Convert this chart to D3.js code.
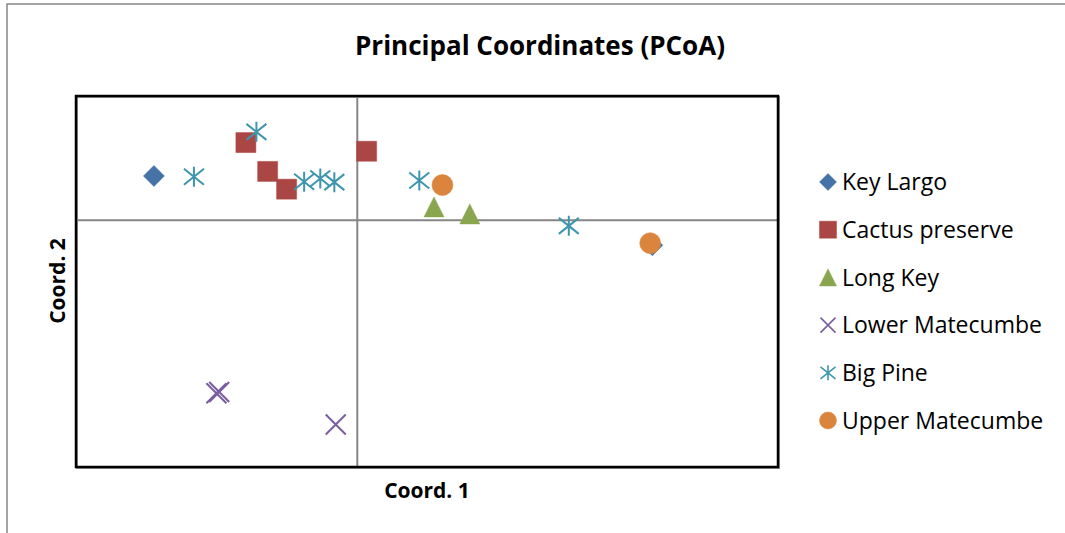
<!DOCTYPE html>
<html>
<head>
<meta charset="utf-8">
<style>
  body { margin: 0; background: #fff; font-family: "Open Sans", sans-serif; }
  svg text { fill: #000; }
</style>
</head>
<body>
<script src="https://cdn.jsdelivr.net/npm/d3@7"></script>
<script>
// site names in legend / drawing order
var sites = ["Key Largo", "Cactus preserve", "Long Key", "Lower Matecumbe", "Big Pine", "Upper Matecumbe"];
var colors = ["#4572A7", "#AA4643", "#89A54E", "#7B5E9E", "#3D96AE", "#DB843D"];
var shapes = ["diamond", "square", "triangle", "x", "star", "circle"];

// PCoA scores: [coord1, coord2]
var keyLargo = [[-0.289, 0.106], [0.421, -0.062]];
var cactusPreserve = [[-0.158, 0.187], [-0.127, 0.117], [-0.100, 0.074], [0.014, 0.166]];
var longKey = [[0.110, 0.031], [0.161, 0.014]];
var lowerMatecumbe = [[-0.200, -0.421], [-0.196, -0.418], [-0.030, -0.497]];
var bigPine = [[-0.143, 0.213], [-0.232, 0.104], [-0.075, 0.092], [-0.052, 0.100],
               [-0.032, 0.091], [0.089, 0.095], [0.302, -0.015]];
var upperMatecumbe = [[0.122, 0.084], [0.418, -0.057]];
var seriesData = [keyLargo, cactusPreserve, longKey, lowerMatecumbe, bigPine, upperMatecumbe];

var W = 1065, H = 533;
var plot = {left: 76, top: 96, right: 778, bottom: 467};

var svg = d3.select("body").append("svg")
    .attr("width", W).attr("height", H);

// chart area frame
svg.append("rect")
    .attr("x", 7).attr("y", 4)
    .attr("width", W + 20).attr("height", H + 20)
    .attr("fill", "#fff").attr("stroke", "#878787").attr("stroke-width", 1.5);

var x = d3.scaleLinear().domain([-0.4, 0.6]).range([plot.left, plot.right]);
var y = d3.scaleLinear().domain([-0.6, 0.3]).range([plot.bottom, plot.top]);

// axes through the origin (no ticks, no labels)
svg.append("g")
    .attr("transform", "translate(0," + y(0) + ")")
    .call(d3.axisBottom(x).tickValues([]).tickSizeOuter(0))
    .call(function(g) { g.select(".domain").attr("stroke", "#868686").attr("stroke-width", 2); });
svg.append("g")
    .attr("transform", "translate(" + x(0) + ",0)")
    .call(d3.axisLeft(y).tickValues([]).tickSizeOuter(0))
    .call(function(g) { g.select(".domain").attr("stroke", "#868686").attr("stroke-width", 2); });

// plot area border
svg.append("rect")
    .attr("x", plot.left + 1).attr("y", plot.top + 1)
    .attr("width", plot.right - plot.left).attr("height", plot.bottom - plot.top)
    .attr("fill", "none").attr("stroke", "#9a9a9a").attr("stroke-width", 2);
svg.append("rect")
    .attr("x", plot.left).attr("y", plot.top)
    .attr("width", plot.right - plot.left).attr("height", plot.bottom - plot.top)
    .attr("fill", "none").attr("stroke", "#000").attr("stroke-width", 2.5);

// marker path centred on its bounding box, s = box size
function markerPath(shape, s) {
  var h = s / 2;
  if (shape == "diamond") return "M0," + (-h) + "L" + h + ",0L0," + h + "L" + (-h) + ",0Z";
  if (shape == "square") return "M" + (-h) + "," + (-h) + "h" + s + "v" + s + "h" + (-s) + "Z";
  if (shape == "triangle") return "M0," + (-h) + "L" + h + "," + h + "L" + (-h) + "," + h + "Z";
  if (shape == "circle") return d3.arc()({innerRadius: 0, outerRadius: h, startAngle: 0, endAngle: 2 * Math.PI});
  if (shape == "x") return "M" + (-h) + "," + (-h) + "L" + h + "," + h + "M" + (-h) + "," + h + "L" + h + "," + (-h);
  // star: vertical line plus an x
  var d = h;
  return "M0," + (-h) + "V" + h + "M" + (-d) + "," + (-d * 0.8) + "L" + d + "," + (d * 0.8) +
         "M" + (-d) + "," + (d * 0.8) + "L" + d + "," + (-d * 0.8);
}

function styleMarker(sel, i, lineW) {
  var open = shapes[i] == "x" || shapes[i] == "star";
  sel.attr("fill", open ? "none" : colors[i])
     .attr("stroke", colors[i])
     .attr("stroke-width", open ? lineW : 0.5);
}

var sizes = {diamond: 21, square: 20, triangle: 20, circle: 21, x: 20, star: 20};

seriesData.forEach(function(pts, i) {
  svg.append("g").selectAll("path")
      .data(pts)
      .enter().append("path")
      .attr("transform", function(d) { return "translate(" + x(d[0]) + "," + y(d[1]) + ")"; })
      .attr("d", markerPath(shapes[i], sizes[shapes[i]]))
      .call(styleMarker, i, 2);
});

// title and axis titles
svg.append("text")
    .attr("x", 540).attr("y", 55)
    .attr("text-anchor", "middle")
    .style("font-size", "26px").style("font-weight", "bold")
    .text("Principal Coordinates (PCoA)");

svg.append("text")
    .attr("x", 427).attr("y", 498)
    .attr("text-anchor", "middle")
    .style("font-size", "21px").style("font-weight", "bold")
    .text("Coord. 1");

svg.append("text")
    .attr("transform", "translate(65,281) rotate(-90)")
    .attr("text-anchor", "middle")
    .style("font-size", "21px").style("font-weight", "bold")
    .text("Coord. 2");

// legend
var legend = svg.append("g").selectAll("g")
    .data(sites)
    .enter().append("g")
    .attr("transform", function(d, i) { return "translate(828," + (182 + i * 47.7) + ")"; });

legend.append("path")
    .attr("d", function(d, i) { return markerPath(shapes[i], shapes[i] == "x" || shapes[i] == "star" ? 15 : 17); })
    .each(function(d, i) { d3.select(this).call(styleMarker, i, 1.6); });

legend.append("text")
    .attr("x", 14).attr("dy", "0.36em")
    .style("font-size", "23px")
    .text(function(d) { return d; });
</script>
</body>
</html>
